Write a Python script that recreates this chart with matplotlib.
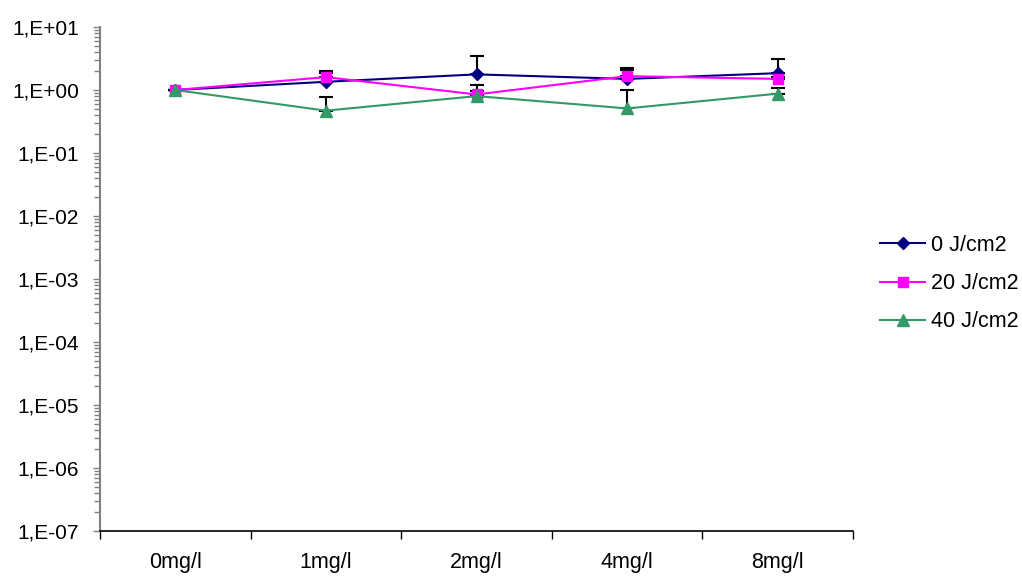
import matplotlib
matplotlib.use("Agg")
import matplotlib.pyplot as plt
from matplotlib.ticker import LogLocator, FixedLocator, NullFormatter
import numpy as np

categories = ["0mg/l", "1mg/l", "2mg/l", "4mg/l", "8mg/l"]
series_names = ["0 J/cm2", "20 J/cm2", "40 J/cm2"]
dose0 = [1.0, 1.35, 1.77, 1.50, 1.85]
dose20 = [1.0, 1.60, 0.85, 1.66, 1.50]
dose40 = [1.0, 0.47, 0.80, 0.51, 0.875]
err0 = [0.0, 0.50, 1.68, 0.60, 1.30]
err20 = [0.0, 0.40, 0.34, 0.55, 0.10]
err40 = [0.0, 0.31, 0.15, 0.49, 0.19]
ytick_labels = ["1,E-07", "1,E-06", "1,E-05", "1,E-04", "1,E-03", "1,E-02", "1,E-01", "1,E+00", "1,E+01"]

plt.rcParams["font.family"] = ["Liberation Sans", "DejaVu Sans"]

fig = plt.figure(figsize=(10.22, 5.78), dpi=100)
ax = fig.add_axes([100 / 1022, 47 / 578, 753 / 1022, 504 / 578])

x = np.arange(len(categories))
styles = [
    (dose0, err0, "#000080", "D", 6.5),
    (dose20, err20, "#FF00FF", "s", 6.5),
    (dose40, err40, "#339966", "^", 8),
]
for (vals, errs, color, marker, ms), name in zip(styles, series_names):
    ax.errorbar(x, vals, yerr=[np.zeros(len(errs)), errs], fmt="none",
                ecolor="black", elinewidth=1.5, capsize=5, capthick=1.5, zorder=2)
    ax.plot(x, vals, color=color, marker=marker, markersize=ms, linewidth=1.5,
            markeredgecolor=color, label=name, zorder=3)

ax.set_yscale("log")
ax.set_ylim(1e-7, 1e1)
ax.set_xlim(-0.5, len(categories) - 0.5)

ax.yaxis.set_major_locator(FixedLocator([10.0 ** k for k in range(-7, 2)]))
ax.set_yticklabels(ytick_labels)
ax.yaxis.set_minor_locator(LogLocator(base=10, subs=np.arange(2, 10), numticks=100))
ax.yaxis.set_minor_formatter(NullFormatter())

ax.set_xticks(x)
ax.set_xticklabels(categories)
ax.set_xticks(np.arange(len(categories) + 1) - 0.5, minor=True)
ax.tick_params(axis="x", which="major", length=0, pad=15, labelsize=15.5)
ax.tick_params(axis="x", which="minor", length=6, width=1, color="black")
ax.tick_params(axis="y", which="major", length=5, width=1, color="#808080", labelsize=15, pad=10)
ax.tick_params(axis="y", which="minor", length=4, width=1, color="#808080")

for side in ["top", "right"]:
    ax.spines[side].set_visible(False)
ax.spines["left"].set_color("#808080")
ax.spines["left"].set_linewidth(1.5)
ax.spines["bottom"].set_color("black")
ax.spines["bottom"].set_linewidth(1.2)

fig.legend(loc="upper left", bbox_to_anchor=(880 / 1022, 1 - 235 / 578), frameon=False,
           fontsize=15.5, handlelength=2.1, handletextpad=0.25, labelspacing=0.8,
           borderpad=0, borderaxespad=0)

fig.savefig("out.png", dpi=100)
